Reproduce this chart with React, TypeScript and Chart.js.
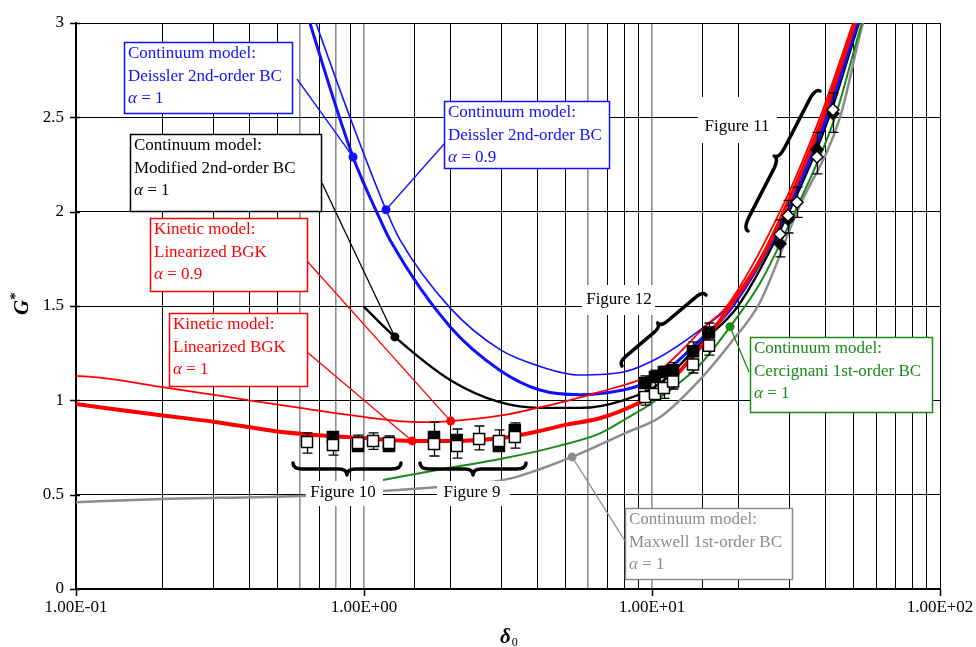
import { useEffect, useRef } from 'react';
import { Chart, registerables } from 'chart.js';

Chart.register(...registerables);

const SERIF = '"Liberation Serif", "Times New Roman", Times, serif';

// Axis ticks
const xDecades = [0.1, 1, 10, 100];
const xDecadeLabels = ['1.00E-01', '1.00E+00', '1.00E+01', '1.00E+02'];
const yMin = 0;
const yMax = 3;
const yStep = 0.5;

// Kinetic model: linearized BGK, alpha = 1
const bgk1Delta = [0.1, 0.2, 0.3, 0.5, 0.7, 1.0, 1.47, 2.0, 3.0, 4.0, 5.0, 6.6, 9.1, 10.65, 14.68, 18.66, 23.71, 28.73, 39.25, 50.68, 59.5];
const bgk1G = [0.98, 0.92, 0.887, 0.835, 0.815, 0.8, 0.785, 0.785, 0.8, 0.835, 0.87, 0.905, 0.99, 1.05, 1.28, 1.5, 1.74, 2.0, 2.5, 3.0, 3.3];

// Kinetic model: linearized BGK, alpha = 0.9
const bgk09Delta = [0.1, 0.121, 0.2, 0.27, 0.4, 0.6, 1.02, 1.56, 2.0, 3.0, 4.0, 5.0, 6.6, 9.1, 10.65, 15.5, 18.21, 27.83, 38.31, 49.88, 58.5];
const bgk09G = [1.13, 1.12, 1.07, 1.04, 1.0, 0.96, 0.91, 0.885, 0.89, 0.92, 0.96, 0.995, 1.045, 1.11, 1.16, 1.4, 1.5, 2.0, 2.5, 3.0, 3.3];

// Continuum model: Deissler 2nd-order BC, alpha = 0.9
const deissler09Delta = [0.58, 0.681, 0.894, 1.192, 1.334, 1.99, 2.96, 4.08, 5.63, 7.95, 10.65, 15.5, 18.51, 28.96, 39.88, 51.5, 60.4];
const deissler09G = [3.3, 3.0, 2.5, 2.01, 1.85, 1.49, 1.27, 1.18, 1.134, 1.15, 1.23, 1.4, 1.5, 2.0, 2.5, 3.0, 3.3];

// Continuum model: Deissler 2nd-order BC, alpha = 1
const deissler1Delta = [0.567, 0.649, 0.916, 1.137, 1.231, 1.99, 2.96, 4.08, 5.63, 7.95, 9.1, 10.65, 14.68, 19.11, 29.43, 40.52, 51.91, 60.9];
const deissler1G = [3.3, 3.0, 2.29, 1.96, 1.85, 1.39, 1.16, 1.055, 1.03, 1.055, 1.08, 1.13, 1.32, 1.5, 2.0, 2.5, 3.0, 3.3];

// Continuum model: modified 2nd-order BC, alpha = 1
const modifiedDelta = [1.0, 1.28, 1.99, 2.96, 4.08, 5.63, 7.95, 10.65, 14.68, 19.89, 29.91, 41.17, 52.33, 61.4];
const modifiedG = [1.495, 1.336, 1.108, 0.99, 0.96, 0.96, 1.0, 1.09, 1.3, 1.5, 2.0, 2.5, 3.0, 3.3];

// Continuum model: Cercignani 1st-order BC, alpha = 1
const cercignaniDelta = [1.164, 1.94, 3.0, 4.79, 6.6, 8.18, 10.0, 14.68, 18.66, 23.71, 31.37, 43.19, 53.6, 62.9];
const cercignaniG = [0.578, 0.64, 0.69, 0.76, 0.825, 0.905, 0.986, 1.19, 1.39, 1.62, 2.0, 2.5, 3.0, 3.3];

// Continuum model: Maxwell 1st-order BC, alpha = 1
const maxwellDelta = [0.1, 0.2, 0.6, 1.164, 1.836, 2.53, 3.21, 4.08, 5.28, 6.6, 8.18, 10.65, 14.68, 18.66, 23.71, 31.88, 44.97, 54.04, 63.4];
const maxwellG = [0.46, 0.477, 0.493, 0.52, 0.54, 0.56, 0.585, 0.635, 0.7, 0.765, 0.83, 0.91, 1.11, 1.3, 1.52, 2.0, 2.5, 3.0, 3.3];

// Measurements (Figure 10 group)
const fig10OpenDelta = [0.634, 0.78, 0.953, 1.075, 1.221];
const fig10OpenG = [0.779, 0.763, 0.774, 0.784, 0.774];
const fig10High = [0.827, 0.827, 0.816, 0.827, 0.811];
const fig10Low = [0.72, 0.71, 0.73, 0.74, 0.731];
const fig10FilledDelta = [0.78, 0.953, 1.221];
const fig10FilledG = [0.806, 0.758, 0.758];

// Measurements (Figure 9 group)
const fig9OpenDelta = [1.75, 2.1, 2.51, 2.94, 3.34];
const fig9OpenG = [0.769, 0.758, 0.795, 0.784, 0.806];
const fig9High = [0.885, 0.848, 0.864, 0.843, 0.88];
const fig9Low = [0.705, 0.694, 0.737, 0.731, 0.747];
const fig9FilledDelta = [1.75, 2.1, 2.94, 3.34];
const fig9FilledG = [0.806, 0.79, 0.758, 0.843];

// Measurements (Figure 12 group)
const fig12OpenDelta = [9.46, 10.24, 11.0, 11.83, 13.88, 15.77];
const fig12OpenG = [1.018, 1.034, 1.065, 1.1, 1.19, 1.29];
const fig12High = [1.13, 1.16, 1.18, 1.2, 1.31, 1.41];
const fig12Low = [0.975, 1.0, 1.01, 1.06, 1.145, 1.24];
const fig12FilledDelta = [9.46, 10.24, 11.0, 11.83, 13.88, 15.77];
const fig12FilledG = [1.092, 1.124, 1.15, 1.16, 1.26, 1.36];

// Measurements (Figure 11 group)
const fig11OpenDelta = [27.83, 29.67, 31.88, 37.4, 42.5];
const fig11OpenG = [1.88, 1.98, 2.05, 2.29, 2.54];
const fig11High = [1.956, 2.06, 2.13, 2.42, 2.63];
const fig11Low = [1.76, 1.887, 1.97, 2.2, 2.42];
const fig11FilledDelta = [27.83, 29.67, 37.4, 42.5];
const fig11FilledG = [1.83, 1.96, 2.33, 2.52];

const pts = (d: number[], g: number[]) => d.map((x, i) => ({ x, y: g[i] }));

const BLUE = '#1010ff';
const RED = '#ff0000';
const GREEN = '#1a8a1a';
const GRAY = '#8c8c8c';

const curves: Record<string, { delta: number[]; g: number[]; color: string; width: number; order: number }> = {
  maxwell: { delta: maxwellDelta, g: maxwellG, color: GRAY, width: 2.5, order: 20 },
  cercignani: { delta: cercignaniDelta, g: cercignaniG, color: GREEN, width: 2, order: 19 },
  modified: { delta: modifiedDelta, g: modifiedG, color: '#000000', width: 2.4, order: 18 },
  deissler09: { delta: deissler09Delta, g: deissler09G, color: BLUE, width: 1.6, order: 17 },
  deissler1: { delta: deissler1Delta, g: deissler1G, color: BLUE, width: 3, order: 16 },
  bgk09: { delta: bgk09Delta, g: bgk09G, color: RED, width: 1.8, order: 15 },
  bgk1: { delta: bgk1Delta, g: bgk1G, color: RED, width: 4, order: 14 },
};

const errorGroups = [
  { delta: fig10OpenDelta, high: fig10High, low: fig10Low },
  { delta: fig9OpenDelta, high: fig9High, low: fig9Low },
  { delta: fig12OpenDelta, high: fig12High, low: fig12Low },
  { delta: fig11OpenDelta, high: fig11High, low: fig11Low },
];

// Callout boxes: box = [left, top, width, height], leader starts at `from`
const callouts = [
  { curve: 'deissler1', at: 2, color: BLUE, box: [124, 42, 168, 71], from: [297, 79], lines: ['Continuum model:', 'Deissler 2nd-order BC', 'α = 1'] },
  { curve: 'modified', at: 1, color: '#000000', box: [130, 134, 191, 77], from: [322, 183], lines: ['Continuum model:', 'Modified 2nd-order BC', 'α = 1'] },
  { curve: 'deissler09', at: 3, color: BLUE, box: [444, 101, 165, 67], from: [445, 143], lines: ['Continuum model:', 'Deissler 2nd-order BC', 'α = 0.9'] },
  { curve: 'bgk09', at: 8, color: RED, box: [150, 218, 157, 73], from: [307, 261], lines: ['Kinetic model:', 'Linearized BGK', 'α = 0.9'] },
  { curve: 'bgk1', at: 6, color: RED, box: [169, 313, 138, 73], from: [307, 352], lines: ['Kinetic model:', 'Linearized BGK', 'α = 1'] },
  { curve: 'cercignani', at: 8, color: GREEN, box: [750, 337, 182, 75], from: [749, 372], lines: ['Continuum model:', 'Cercignani 1st-order BC', 'α = 1'] },
  { curve: 'maxwell', at: 8, color: GRAY, box: [625, 508, 167, 71], from: [625, 541], lines: ['Continuum model:', 'Maxwell 1st-order BC', 'α = 1'] },
];

const figureLabels = [
  { text: 'Figure 10', cx: 343, cy: 493, bg: [306, 481, 77, 25] },
  { text: 'Figure 9', cx: 472, cy: 493, bg: [437, 481, 73, 25] },
  { text: 'Figure 12', cx: 619, cy: 300, bg: [582, 285, 73, 30] },
  { text: 'Figure 11', cx: 737, cy: 127, bg: [698, 97, 79, 46] },
];

// Braces: from p1 to p2, tip offset d (perpendicular)
const braces = [
  { p1: [293, 463], p2: [401, 463], d: 12 },
  { p1: [420, 463], p2: [526, 463], d: 12 },
  { p1: [622, 366], p2: [706, 295], d: -10 },
  { p1: [748, 231], p2: [820, 91], d: -11 },
];

const emphasisLines = [0.6, 0.8, 1, 6, 10];
const isNear = (a: number, b: number) => Math.abs(Math.log10(a) - Math.log10(b)) < 1e-6;

function drawBrace(ctx: CanvasRenderingContext2D, p1: number[], p2: number[], d: number) {
  const dx = p2[0] - p1[0];
  const dy = p2[1] - p1[1];
  const L = Math.hypot(dx, dy);
  ctx.save();
  ctx.translate(p1[0], p1[1]);
  ctx.rotate(Math.atan2(dy, dx));
  ctx.strokeStyle = '#000';
  ctx.lineWidth = 3.5;
  ctx.lineCap = 'round';
  ctx.lineJoin = 'round';
  const h = d / 2;
  ctx.beginPath();
  ctx.moveTo(0, 0);
  ctx.quadraticCurveTo(0, h, 0.09 * L, h);
  ctx.lineTo(0.42 * L, h);
  ctx.quadraticCurveTo(0.5 * L, h, 0.5 * L, d);
  ctx.quadraticCurveTo(0.5 * L, h, 0.58 * L, h);
  ctx.lineTo(0.91 * L, h);
  ctx.quadraticCurveTo(L, h, L, 0);
  ctx.stroke();
  ctx.restore();
}

function drawTextLine(ctx: CanvasRenderingContext2D, s: string, x: number, y: number) {
  if (s.startsWith('α')) {
    ctx.font = `italic 17px ${SERIF}`;
    ctx.fillText('α', x, y);
    const w = ctx.measureText('α').width;
    ctx.font = `17px ${SERIF}`;
    ctx.fillText(s.slice(1), x + w, y);
  } else {
    ctx.font = `17px ${SERIF}`;
    ctx.fillText(s, x, y);
  }
}

const decorPlugin = {
  id: 'decor',
  afterDatasetDraw(chart: any, args: any) {
    const ds = chart.data.datasets[args.index];
    if (!ds || !ds.errorBarsAfter) return;
    const ctx = chart.ctx as CanvasRenderingContext2D;
    const xs = chart.scales.x;
    const ys = chart.scales.y;
    ctx.save();
    ctx.strokeStyle = '#000';
    ctx.lineWidth = 1.3;
    for (const grp of errorGroups) {
      grp.delta.forEach((dv, i) => {
        const px = Math.round(xs.getPixelForValue(dv)) + 0.5;
        const yh = ys.getPixelForValue(grp.high[i]);
        const yl = ys.getPixelForValue(grp.low[i]);
        ctx.beginPath();
        ctx.moveTo(px, yh);
        ctx.lineTo(px, yl);
        ctx.moveTo(px - 5, yh);
        ctx.lineTo(px + 5, yh);
        ctx.moveTo(px - 5, yl);
        ctx.lineTo(px + 5, yl);
        ctx.stroke();
      });
    }
    ctx.restore();
  },
  afterDatasetsDraw(chart: any) {
    const ctx = chart.ctx as CanvasRenderingContext2D;
    const xs = chart.scales.x;
    const ys = chart.scales.y;
    ctx.save();

    // figure group labels
    for (const f of figureLabels) {
      ctx.fillStyle = '#fff';
      ctx.fillRect(f.bg[0], f.bg[1], f.bg[2], f.bg[3]);
      ctx.fillStyle = '#000';
      ctx.font = `17px ${SERIF}`;
      ctx.textAlign = 'center';
      ctx.textBaseline = 'middle';
      ctx.fillText(f.text, f.cx, f.cy);
    }

    // braces
    for (const b of braces) drawBrace(ctx, b.p1, b.p2, b.d);

    // callouts
    ctx.textAlign = 'left';
    ctx.textBaseline = 'middle';
    for (const c of callouts) {
      const cv = curves[c.curve];
      const ax = xs.getPixelForValue(cv.delta[c.at]);
      const ay = ys.getPixelForValue(cv.g[c.at]);
      ctx.strokeStyle = c.color;
      ctx.lineWidth = 1.3;
      ctx.beginPath();
      ctx.moveTo(c.from[0], c.from[1]);
      ctx.lineTo(ax, ay);
      ctx.stroke();

      const [bx, by, bw, bh] = c.box;
      ctx.fillStyle = '#fff';
      ctx.fillRect(bx, by, bw, bh);
      ctx.lineWidth = 1.5;
      ctx.strokeRect(bx + 0.5, by + 0.5, bw, bh);

      ctx.fillStyle = c.color;
      c.lines.forEach((s, i) => drawTextLine(ctx, s, bx + 4, by + 12 + i * 22.5));

      ctx.beginPath();
      ctx.arc(ax, ay, 4.5, 0, Math.PI * 2);
      ctx.fill();
    }
    ctx.restore();
  },
  afterDraw(chart: any) {
    const ctx = chart.ctx as CanvasRenderingContext2D;
    const xs = chart.scales.x;
    const ys = chart.scales.y;
    const area = chart.chartArea;
    ctx.save();
    ctx.strokeStyle = '#000';
    ctx.lineWidth = 1.5;
    for (let v = yMin; v <= yMax + 1e-9; v += yStep) {
      const py = Math.round(ys.getPixelForValue(v)) + 0.5;
      ctx.beginPath();
      ctx.moveTo(area.left - 6, py);
      ctx.lineTo(area.left + 4, py);
      ctx.stroke();
    }
    for (const d of xDecades) {
      const px = Math.round(xs.getPixelForValue(d)) + 0.5;
      ctx.beginPath();
      ctx.moveTo(px, area.bottom);
      ctx.lineTo(px, area.bottom + 7);
      ctx.stroke();
    }

    // y-axis title G*
    ctx.fillStyle = '#000';
    ctx.save();
    ctx.translate(28, 306);
    ctx.rotate(-Math.PI / 2);
    ctx.textAlign = 'left';
    ctx.textBaseline = 'alphabetic';
    ctx.font = `bold italic 21px ${SERIF}`;
    ctx.fillText('G', -9, 0);
    const gw = ctx.measureText('G').width;
    ctx.font = `bold 15px ${SERIF}`;
    ctx.fillText('*', -9 + gw, -8);
    ctx.restore();

    // x-axis title δ0
    ctx.textAlign = 'left';
    ctx.textBaseline = 'alphabetic';
    ctx.font = `bold italic 21px ${SERIF}`;
    ctx.fillText('δ', 500, 643);
    const dw = ctx.measureText('δ').width;
    ctx.font = `12px ${SERIF}`;
    ctx.fillText('0', 500 + dw + 1, 646);
    ctx.restore();
  },
};

export default function App() {
  const canvasRef = useRef<HTMLCanvasElement | null>(null);

  useEffect(() => {
    const canvas = canvasRef.current;
    if (!canvas) return;

    const curveDatasets = Object.keys(curves).map((key) => {
      const c = curves[key];
      return {
        label: key,
        data: pts(c.delta, c.g),
        borderColor: c.color,
        backgroundColor: c.color,
        borderWidth: c.width,
        pointRadius: 0,
        fill: false,
        cubicInterpolationMode: 'monotone' as const,
        order: c.order,
        errorBarsAfter: key === 'bgk1',
      };
    });

    const marker = (label: string, d: number[], g: number[], style: string, filled: boolean, radius: number, order: number) => ({
      label,
      data: pts(d, g),
      showLine: false,
      pointStyle: style,
      pointRadius: radius,
      pointBackgroundColor: filled ? '#000' : '#fff',
      pointBorderColor: '#000',
      pointBorderWidth: 1.5,
      order,
    });

    const markerDatasets = [
      marker('fig10 filled', fig10FilledDelta, fig10FilledG, 'rect', true, 7.8, 6),
      marker('fig9 filled', fig9FilledDelta, fig9FilledG, 'rect', true, 7.8, 6),
      marker('fig12 filled', fig12FilledDelta, fig12FilledG, 'rect', true, 7.8, 6),
      marker('fig11 filled', fig11FilledDelta, fig11FilledG, 'rectRot', true, 6, 6),
      marker('fig10 open', fig10OpenDelta, fig10OpenG, 'rect', false, 7.8, 5),
      marker('fig9 open', fig9OpenDelta, fig9OpenG, 'rect', false, 7.8, 5),
      marker('fig12 open', fig12OpenDelta, fig12OpenG, 'rect', false, 7.8, 5),
      marker('fig11 open', fig11OpenDelta, fig11OpenG, 'rectRot', false, 6, 5),
    ];

    const chart = new Chart(canvas, {
      type: 'line',
      data: { datasets: [...curveDatasets, ...markerDatasets] as any },
      options: {
        responsive: false,
        animation: false,
        events: [],
        layout: { padding: { top: 23, right: 36, left: 0, bottom: 0 } },
        plugins: { legend: { display: false }, tooltip: { enabled: false } },
        scales: {
          x: {
            type: 'logarithmic',
            min: 0.1,
            max: 100,
            afterFit: (s: any) => {
              s.height = 58;
              s.paddingLeft = 0;
              s.paddingRight = 0;
            },
            border: { display: true, color: '#000', width: 2 },
            grid: {
              drawTicks: false,
              color: (c: any) => (c.tick && emphasisLines.some((v) => isNear(v, c.tick.value)) ? '#909090' : '#000'),
              lineWidth: (c: any) => (c.tick && emphasisLines.some((v) => isNear(v, c.tick.value)) ? 1.6 : 1),
            },
            ticks: {
              autoSkip: false,
              maxRotation: 0,
              minRotation: 0,
              padding: 8,
              color: '#000',
              font: { family: SERIF, size: 17 },
              callback: (v: any) => {
                const i = xDecades.findIndex((d) => isNear(d, Number(v)));
                return i >= 0 ? xDecadeLabels[i] : '';
              },
            },
          },
          y: {
            type: 'linear',
            min: yMin,
            max: yMax,
            afterFit: (s: any) => {
              s.width = 76;
              s.paddingTop = 0;
              s.paddingBottom = 0;
            },
            border: { display: true, color: '#000', width: 2 },
            grid: { drawTicks: false, color: '#000', lineWidth: 1 },
            ticks: {
              stepSize: yStep,
              padding: 12,
              color: '#000',
              font: { family: SERIF, size: 17 },
              callback: (v: any) => String(Number(v)),
            },
          },
        },
      } as any,
      plugins: [decorPlugin],
    });

    return () => chart.destroy();
  }, []);

  return (
    <div style={{ position: 'fixed', left: 0, top: 0, width: 976, height: 647, background: '#fff' }}>
      <canvas ref={canvasRef} width={976} height={647} style={{ display: 'block' }} />
    </div>
  );
}
